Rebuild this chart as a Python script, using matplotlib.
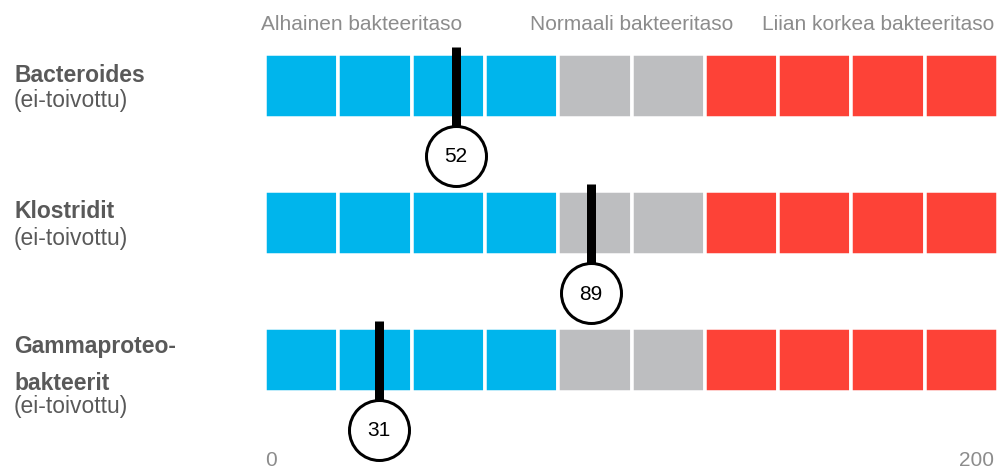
import numpy as np
import matplotlib
matplotlib.use("Agg")
import matplotlib.pyplot as plt

plt.rcParams['font.family'] = ['Liberation Sans', 'DejaVu Sans']

# data
rows = [["Bacteroides"], ["Klostridit"], ["Gammaproteo-", "bakteerit"]]
row_note = "(ei-toivottu)"
values = [52, 89, 31]
zone_names = ["Alhainen bakteeritaso", "Normaali bakteeritaso", "Liian korkea bakteeritaso"]
zone_bounds = [0, 80, 120, 200]
zone_colors = ["#00B5EC", "#BDBEC0", "#FD4237"]
seg = 20
x_ticks = [0, 200]

# layout (pixels, figure is 998x468 at dpi 100)
W, H = 998, 468
px_per_unit = (998 - 265) / 200.0
fig = plt.figure(figsize=(W / 100, H / 100), dpi=100)
ax = fig.add_axes([0, 0, 1, 1])
ax.set_xlim(-265 / px_per_unit, 200)
ax.set_ylim(H, 0)
ax.axis('off')

gap_px = 3.5
pt = 72 / 100.0  # points per pixel
row_y = [86 + 137 * i for i in range(len(rows))]

# segmented bars
for yc in row_y:
    for z in range(len(zone_colors)):
        lefts = np.arange(zone_bounds[z], zone_bounds[z + 1], seg)
        ax.barh([yc] * len(lefts), seg, left=lefts, height=60 + gap_px,
                color=zone_colors[z], edgecolor='white', linewidth=gap_px * pt)

# row labels
for i, lines in enumerate(rows):
    yc = row_y[i]
    if len(lines) == 1:
        ax.text(14 / W, 1 - (yc - 11) / H, lines[0], transform=fig.transFigure,
                fontsize=16.5, fontweight='bold', color='#595959', va='center', ha='left')
        ax.text(14 / W, 1 - (yc + 15) / H, row_note, transform=fig.transFigure,
                fontsize=16.5, color='#595959', va='center', ha='left')
    else:
        ax.text(14 / W, 1 - (yc - 13) / H, lines[0], transform=fig.transFigure,
                fontsize=16.5, fontweight='bold', color='#595959', va='center', ha='left')
        ax.text(14 / W, 1 - (yc + 23) / H, lines[1], transform=fig.transFigure,
                fontsize=16.5, fontweight='bold', color='#595959', va='center', ha='left')
        ax.text(14 / W, 1 - (yc + 47) / H, row_note, transform=fig.transFigure,
                fontsize=16.5, color='#595959', va='center', ha='left')

# zone titles
ax.text(zone_bounds[0] - 1, 25, zone_names[0], fontsize=15, color='#8C8C8C', ha='left', va='center')
ax.text((zone_bounds[1] + zone_bounds[2]) / 2, 25, zone_names[1], fontsize=15, color='#8C8C8C', ha='center', va='center')
ax.text(zone_bounds[3] - 1, 25, zone_names[2], fontsize=15, color='#8C8C8C', ha='right', va='center')

# axis end labels
ax.text(x_ticks[0], 460, str(x_ticks[0]), fontsize=15, color='#8C8C8C', ha='left', va='center')
ax.text(x_ticks[1] - 1, 460, str(x_ticks[1]), fontsize=15, color='#8C8C8C', ha='right', va='center')

# markers
for v, yc in zip(values, row_y):
    ax.plot([v, v], [yc - 39, yc + 70], color='black', lw=9 * pt, solid_capstyle='butt', zorder=4)
    ax.plot(v, yc + 70, 'o', ms=60 * pt, mfc='white', mec='black', mew=3 * pt, zorder=5)
    ax.text(v, yc + 71, str(v), fontsize=15, color='black', ha='center', va='center', zorder=6)

fig.savefig("out.png", dpi=100)
